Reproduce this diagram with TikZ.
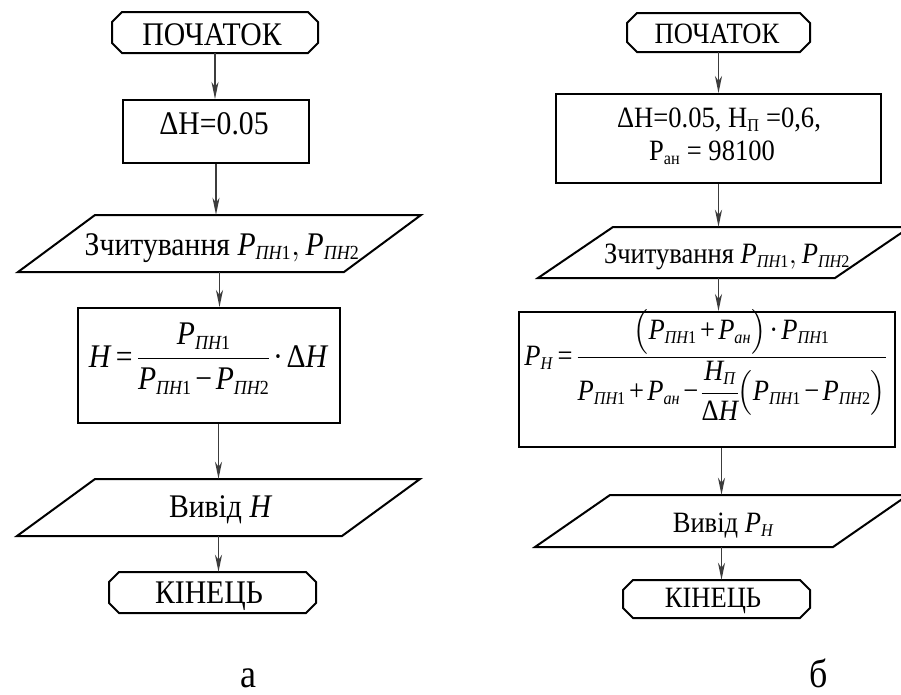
\documentclass[tikz,border=0pt]{standalone}
\usepackage{fix-cm}
\usepackage{amsmath}
\usepackage{fontspec}
\setmainfont{Liberation Serif}[FakeStretch=0.9]
\usetikzlibrary{arrows.meta}
\DeclareMathSizes{33}{33}{20}{15}
\DeclareMathSizes{29.5}{29.5}{18}{13}
\definecolor{arrgray}{HTML}{3C3C3C}
\tikzset{
  shp/.style={draw=black, line width=2pt, line join=miter},
  box/.style={shp, rectangle, inner sep=0pt},
  arr/.style={draw=arrgray, line width=1.6pt, -{Stealth[length=17pt,width=7pt,inset=5pt]}},
  ltxt/.style={font=\fontsize{33}{39}\selectfont, inner sep=0pt, anchor=base},
  rtxt/.style={font=\fontsize{29.5}{35}\selectfont, inner sep=0pt, anchor=base},
  captxt/.style={font=\fontsize{40}{48}\selectfont, inner sep=0pt, anchor=base},
  frame/.style={inner sep=0pt, rectangle}
}
\newcommand\term[5]{%
  \draw[shp] (#2+10,#3) -- (#4-10,#3) -- (#4,#3+10) -- (#4,#5-10) -- (#4-10,#5) -- (#2+10,#5) -- (#2,#5-10) -- (#2,#3+10) -- cycle;
  \node[frame, minimum width={#4-#2}, minimum height={#5-#3}] (#1) at ({(#2+#4)/2},{(#3+#5)/2}) {};}
\newcommand\para[6]{%
  \draw[shp] (#2,#3) -- (#4,#5) -- (#4+#6,#5) -- (#2+#6,#3) -- cycle;
  \node[frame, minimum width={#4+#6-#2}, minimum height={#3-#5}] (#1) at ({(#2+#4+#6)/2},{(#3+#5)/2}) {};}
\newcommand\iv[1]{\text{\itshape #1}}
\newcommand\PP[1]{\iv{P}_{\iv{ПН}\text{#1}}}
\newcommand\Pan{\iv{P}_{\iv{ан}}}
\newcommand\opl{\mathbin{\text{+}}}
\newcommand\omn{\mathbin{\text{−}}}
\newcommand\oeq{\mathrel{\text{=}}}
\newcommand\ocd{\mathbin{\text{·}}}
\newcommand\tightmath{\thickmuskip=3mu\medmuskip=2mu\nulldelimiterspace=0pt}
\begin{document}
\begin{tikzpicture}[x=1pt,y=-1pt]
\clip (0,0) rectangle (901,694);
\fill[white] (0,0) rectangle (901,694);

% ---------- left flowchart ----------
\term{T1}{112}{12}{318}{53}
\node[box, minimum width=186pt, minimum height=63pt] (B1) at (216,131.5) {};
\para{I1}{18}{272}{95}{215}{326}
\node[box, minimum width=262pt, minimum height=115pt] (F1) at (209,365.5) {};
\para{O1}{17}{536}{95}{479}{325}
\term{T2}{109}{572}{316}{613}

\node[ltxt] (t1) at (212,45) {ПОЧАТОК};
\node[ltxt] (b1) at (214,134) {ΔH=0.05};
\node[ltxt] (i1) at (222,255) {Зчитування $\PP1,\PP2$};
\node[ltxt] (f1) at (208,367) {\tightmath$\iv{H}\oeq\dfrac{\PP1}{\PP1\omn\PP2}\ocd\text{Δ}\iv{H}$};
\node[ltxt] (o1) at (220,517) {Вивід $\iv{H}$};
\node[ltxt] (e1) at (209,603) {КІНЕЦЬ};

\draw[arr] (T1.south) -- (T1.south |- B1.north);
\draw[arr] (B1.south) -- (B1.south |- I1.north);
\draw[arr] (I1.south) -- (I1.south |- F1.north);
\draw[arr] (O1.north |- F1.south) -- (O1.north);
\draw[arr] (O1.south) -- (O1.south |- T2.north);

% ---------- right flowchart ----------
\term{T3}{627}{13}{810}{52}
\node[box, minimum width=325pt, minimum height=89pt] (B2) at (718.5,138.5) {};
\para{I2}{538}{278}{613}{227}{297}
\node[box, minimum width=376pt, minimum height=135pt] (F2) at (707,379.5) {};
\para{O2}{535}{547}{610}{495}{298}
\term{T4}{623}{580}{810}{618}

\node[rtxt] (t3) at (717,43) {ПОЧАТОК};
\node[rtxt] (b2a) at (719,127) {ΔH=0.05, H\textsubscript{П} =0,6,};
\node[rtxt] (b2b) at (712,160) {P\textsubscript{ан} = 98100};
\node[rtxt] (i2) at (727,263) {Зчитування $\PP1,\PP2$};
\node[rtxt] (f2) at (705,365) {\tightmath$\iv{P}_{\iv{H}}\oeq\dfrac{\bigl(\PP1\opl\Pan\bigr)\ocd\PP1}{\PP1\opl\Pan\omn\dfrac{\iv{H}_{\iv{П}}}{\text{Δ}\iv{H}}\bigl(\PP1\omn\PP2\bigr)}$};
\node[rtxt] (o2) at (723,532) {Вивід $\iv{P}_{\iv{H}}$};
\node[rtxt] (e2) at (713,607) {КІНЕЦЬ};

\draw[arr] (T3.south) -- (T3.south |- B2.north);
\draw[arr] (B2.south) -- (B2.south |- I2.north);
\draw[arr] (B2.south |- I2.south) -- (B2.south |- F2.north);
\draw[arr] (O2.north |- F2.south) -- (O2.north);
\draw[arr] (O2.south) -- (O2.south |- T4.north);

% ---------- captions ----------
\node[captxt] (ca) at (248,687) {а};
\node[captxt] (cb) at (819,687) {б};
\end{tikzpicture}
\end{document}
